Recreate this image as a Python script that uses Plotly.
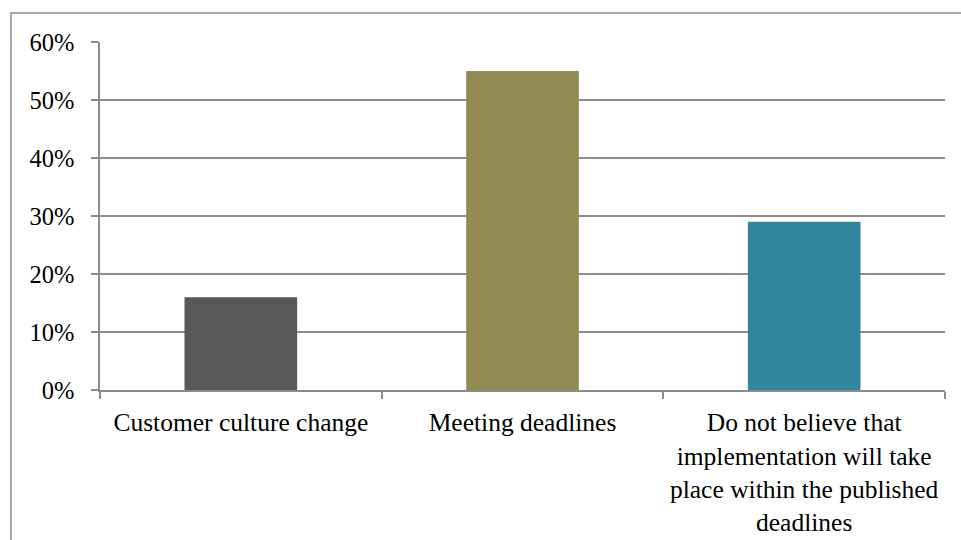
import plotly.graph_objects as go

categories = [
    "Customer culture change",
    "Meeting deadlines",
    "Do not believe that<br>implementation will take<br>place within the published<br>deadlines",
]
shares = [0.16, 0.55, 0.29]
bar_colors = ["#595959", "#938953", "#31859C"]
y_ticks = [0, 0.1, 0.2, 0.3, 0.4, 0.5, 0.6]
y_tick_labels = ["0%", "10%", "20%", "30%", "40%", "50%", "60%"]

axis_gray = "#8c8c8c"
font_family = "Liberation Serif, Times New Roman, serif"

fig = go.Figure(
    go.Bar(
        x=categories,
        y=shares,
        marker=dict(color=bar_colors, line=dict(width=0)),
        width=0.4,
        hoverinfo="skip",
    )
)

fig.update_layout(
    width=961,
    height=540,
    margin=dict(l=100, r=16, t=42, b=150),
    paper_bgcolor="white",
    plot_bgcolor="white",
    showlegend=False,
    font=dict(family=font_family, size=25, color="black"),
    xaxis=dict(
        type="category",
        automargin=False,
        showline=True,
        linecolor=axis_gray,
        linewidth=1.5,
        ticks="outside",
        tickson="boundaries",
        ticklen=7,
        tickwidth=1.5,
        tickcolor=axis_gray,
        showgrid=False,
        tickfont=dict(size=25.5),
        ticklabelstandoff=9,
    ),
    yaxis=dict(
        range=[0, 0.6],
        automargin=False,
        tickvals=y_ticks,
        ticktext=y_tick_labels,
        showline=True,
        linecolor=axis_gray,
        linewidth=1.5,
        ticks="outside",
        ticklen=7,
        tickwidth=1.5,
        tickcolor=axis_gray,
        showgrid=True,
        gridcolor=axis_gray,
        gridwidth=1.5,
        zeroline=False,
        ticklabelstandoff=12,
        tickfont=dict(size=24.5),
    ),
    shapes=[
        dict(
            type="rect",
            xref="paper",
            yref="paper",
            x0=(11 - 100) / 845,
            x1=1.2,
            y0=-0.6,
            y1=(390 - 13) / 348,
            line=dict(color=axis_gray, width=1.5),
            fillcolor="rgba(0,0,0,0)",
            layer="below",
        )
    ],
)

fig.write_html("out.html")
